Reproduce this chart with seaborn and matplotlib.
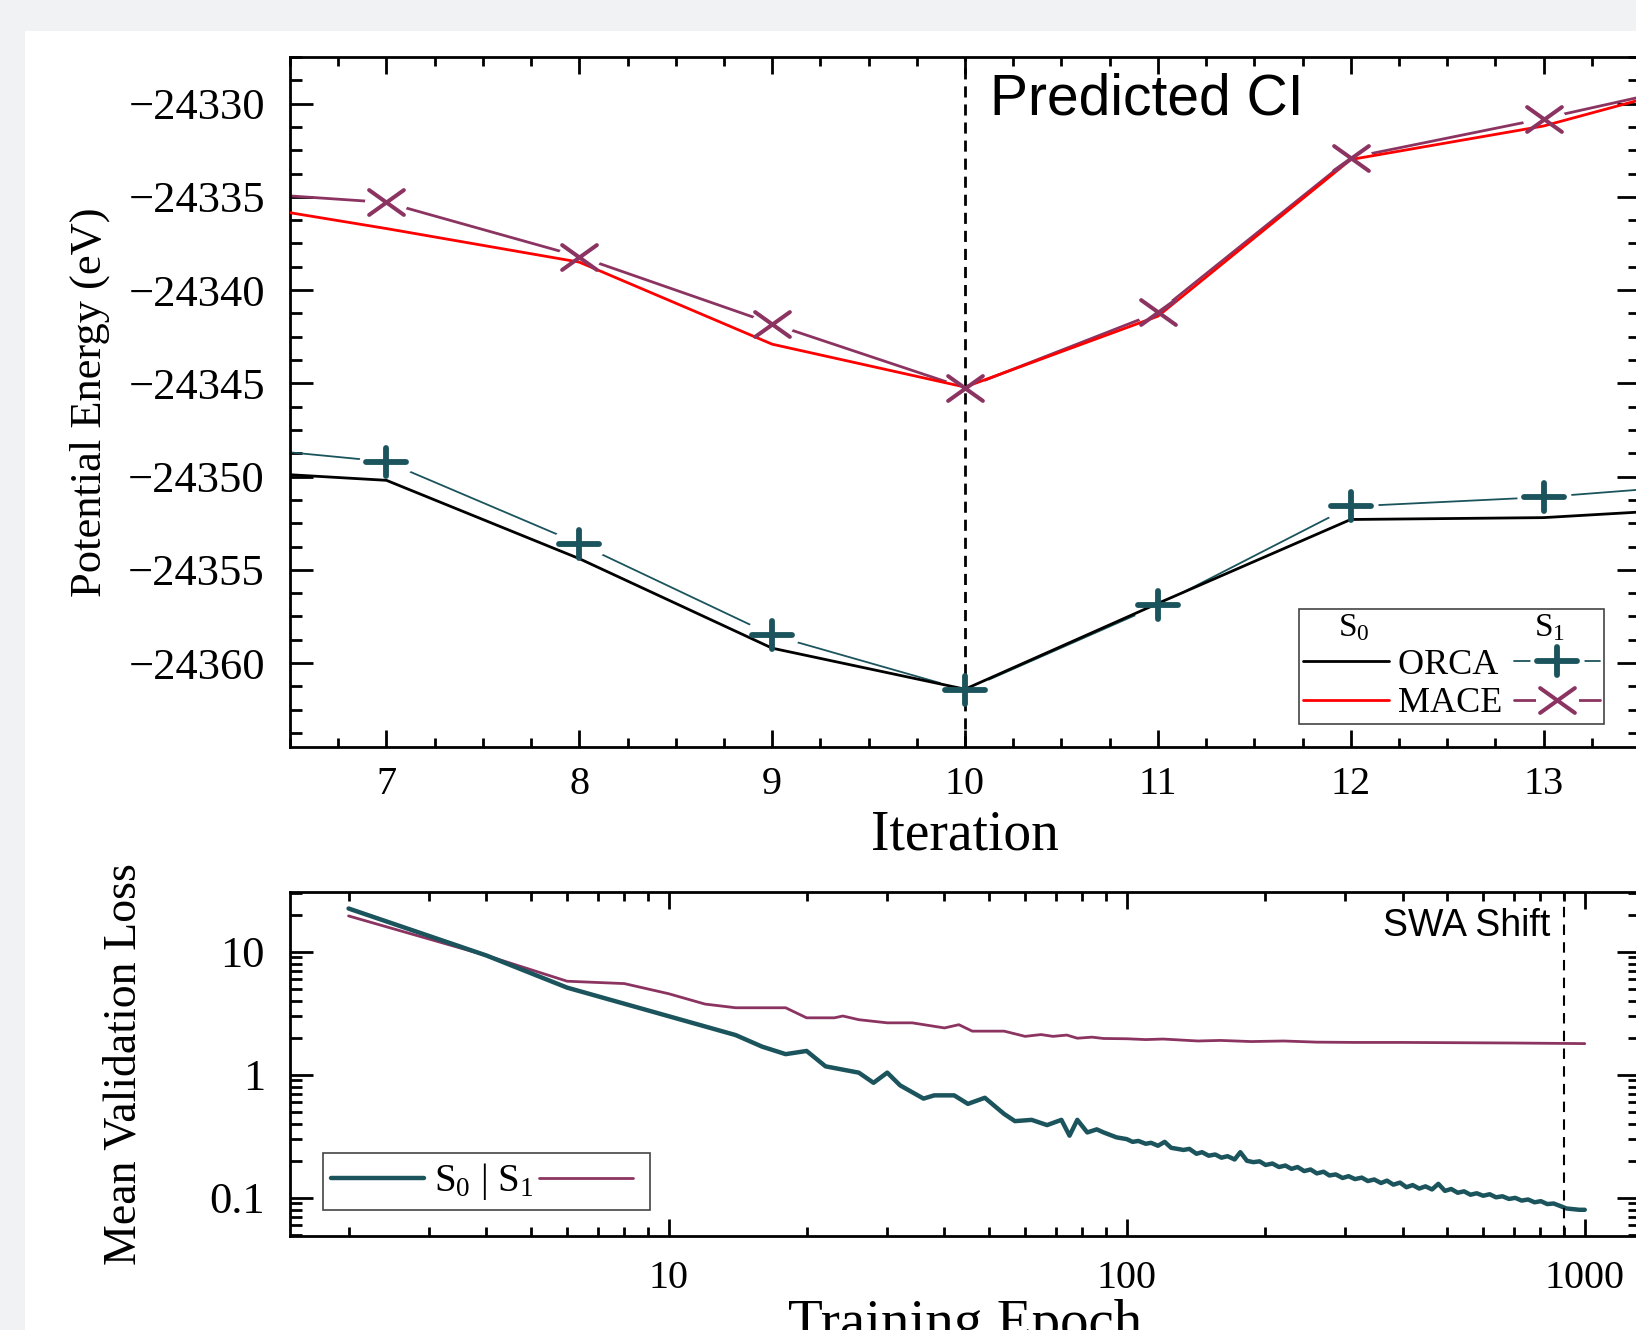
import matplotlib
matplotlib.use('Agg')
import matplotlib.pyplot as plt
import seaborn as sns
import numpy as np
from matplotlib.path import Path
from matplotlib.markers import MarkerStyle
from matplotlib.transforms import Affine2D
from matplotlib.patches import Rectangle
from matplotlib.lines import Line2D
from matplotlib.legend_handler import HandlerTuple
from matplotlib.ticker import AutoMinorLocator, LogLocator, NullFormatter

# ---- top panel: potential energy along the optimisation path (eV)
iteration = [6, 7, 8, 9, 10, 11, 12, 13, 14]
orca_s0 = [-24349.6, -24350.2, -24354.4, -24359.2, -24361.4, -24356.8, -24352.3, -24352.2, -24351.6]
orca_s1 = [-24348.2, -24349.2, -24353.6, -24358.5, -24361.45, -24356.9, -24351.6, -24351.1, -24350.3]
mace_s0 = [-24335.0, -24336.7, -24338.5, -24342.9, -24345.2, -24341.4, -24333.0, -24331.2, -24328.4]
mace_s1 = [-24334.6, -24335.3, -24338.2, -24341.8, -24345.25, -24341.2, -24332.9, -24330.8, -24328.5]
ci_iteration = 10
energy_ticks = [-24360, -24355, -24350, -24345, -24340, -24335, -24330]
iter_ticks = [7, 8, 9, 10, 11, 12, 13]

# ---- bottom panel: validation loss vs epoch
epoch_s0 = [2, 4, 6, 14, 16, 18, 20, 22, 24, 26, 28, 30, 32, 36, 38, 42, 45, 49, 54, 57,
            62, 67, 72, 75, 78, 82, 86, 89, 95,
            100, 103, 106, 110, 113, 117, 121, 125, 129, 133, 137, 142, 146, 151, 156, 161,
            166, 172, 177, 183, 189, 195, 201, 208, 215, 222, 229, 236, 244, 252, 260, 269,
            277, 286, 296, 305, 315, 326, 336, 347, 359, 370, 382, 395, 408, 421, 435, 449,
            464, 479, 495, 511, 528, 545, 563, 581, 600, 620, 640, 661, 683, 705, 728, 752,
            777, 802, 828, 855, 883, 912, 942, 973, 1000]
loss_s0 = [22.4, 9.3, 5.1, 2.1, 1.69, 1.47, 1.56, 1.17, 1.1, 1.04, 0.86, 1.04, 0.82, 0.64,
           0.68, 0.68, 0.58, 0.65, 0.48, 0.42, 0.43, 0.39, 0.43, 0.32, 0.43, 0.34, 0.36,
           0.34, 0.31,
           0.30, 0.285, 0.29, 0.275, 0.28, 0.265, 0.285, 0.255, 0.25, 0.245, 0.25, 0.228,
           0.235, 0.22, 0.225, 0.212, 0.218, 0.205, 0.235, 0.20, 0.195, 0.198, 0.185, 0.19,
           0.178, 0.183, 0.172, 0.178, 0.165, 0.17, 0.158, 0.163, 0.152, 0.155, 0.145, 0.15,
           0.142, 0.146, 0.137, 0.141, 0.132, 0.138, 0.128, 0.133, 0.122, 0.127, 0.119,
           0.124, 0.117, 0.13, 0.114, 0.118, 0.11, 0.113, 0.106, 0.109, 0.104, 0.107, 0.101,
           0.103, 0.098, 0.10, 0.095, 0.097, 0.092, 0.094, 0.089, 0.09, 0.086, 0.082, 0.081,
           0.08, 0.08]
epoch_s1 = [2, 4, 6, 8, 10, 12, 14, 18, 20, 23, 24, 26, 30, 34, 40, 43, 46, 54, 60, 65,
            69, 74, 78, 84, 89, 100, 110, 120, 143, 160, 187, 220, 260, 315, 400, 530,
            700, 1000]
loss_s1 = [19.5, 9.3, 5.75, 5.5, 4.55, 3.75, 3.5, 3.5, 2.9, 2.9, 3.0, 2.8, 2.64, 2.64,
           2.4, 2.55, 2.26, 2.26, 2.05, 2.12, 2.05, 2.1, 1.98, 2.02, 1.97, 1.96, 1.93,
           1.95, 1.88, 1.9, 1.86, 1.88, 1.84, 1.83, 1.83, 1.82, 1.81, 1.79]
swa_epoch = 900
loss_ticks = [0.1, 1, 10]
loss_labels = ['0.1', '1', '10']
epoch_ticks = [10, 100, 1000]
epoch_labels = ['10', '100', '1000']

teal = '#1b545c'
plum = '#8c3461'

sns.set_theme(style='ticks')
plt.rcParams['font.family'] = ['Liberation Serif', 'DejaVu Serif']
plt.rcParams['mathtext.fontset'] = 'custom'
plt.rcParams['mathtext.rm'] = 'Liberation Serif'
plt.rcParams['mathtext.it'] = 'Liberation Serif:italic'
plt.rcParams['mathtext.bf'] = 'Liberation Serif:bold'
for key in ['text.color', 'axes.labelcolor', 'xtick.color', 'ytick.color', 'axes.edgecolor']:
    plt.rcParams[key] = 'black'

# wide plus / cross markers (the original figure is stretched sideways) and a white
# elliptic halo that opens a gap in the S1 lines around each marker
plus_mk = MarkerStyle(Path([(-1.4, 0), (1.4, 0), (0, -1), (0, 1)],
                           [Path.MOVETO, Path.LINETO, Path.MOVETO, Path.LINETO]), capstyle='round')
cross_mk = MarkerStyle(Path([(-1.4, -1), (1.4, 1), (-1.4, 1), (1.4, -1)],
                            [Path.MOVETO, Path.LINETO, Path.MOVETO, Path.LINETO]), capstyle='round')
halo_mk = MarkerStyle(Affine2D().scale(1.4, 1).transform_path(Path.unit_circle()))

W, H = 1636, 1330
fig = plt.figure(figsize=(W / 100, H / 100), dpi=100, facecolor='#f1f2f4')
fig.add_artist(Rectangle((25 / W, 0), 1, 1 - 31 / H, transform=fig.transFigure,
                         facecolor='white', edgecolor='none', zorder=-10))
ax1 = fig.add_axes([290 / W, 1 - 747 / H, 1350 / W, 690 / H])
ax2 = fig.add_axes([290 / W, 1 - 1236 / H, 1350 / W, 344 / H])


def style_axes(ax, xl_pad, yl_pad, xsize, ysize):
    for sp in ax.spines.values():
        sp.set_linewidth(2)
        sp.set_color('black')
    ax.tick_params(which='both', direction='in', top=True, right=True, width=2, color='black')
    ax.tick_params(axis='x', which='major', length=12, pad=xl_pad, labelsize=xsize)
    ax.tick_params(axis='x', which='minor', length=6.5)
    ax.tick_params(axis='y', which='major', length=16.5, pad=yl_pad, labelsize=ysize)
    ax.tick_params(axis='y', which='minor', length=8.5)


plus_kw = dict(ls='none', marker=plus_mk, ms=29, mec=teal, mfc='none', mew=4.2)
cross_kw = dict(ls='none', marker=cross_mk, ms=25, mec=plum, mfc='none', mew=2.9)
plus_halo = dict(ls='none', marker=halo_mk, ms=39, mfc='white', mec='none')
cross_halo = dict(ls='none', marker=halo_mk, ms=31, mfc='white', mec='none')

# ---- top panel
sns.lineplot(x=iteration, y=orca_s1, ax=ax1, color=teal, lw=1.3, zorder=2)
ax1.plot(iteration, orca_s1, zorder=2.5, **plus_halo)
sns.lineplot(x=iteration, y=orca_s0, ax=ax1, color='black', lw=2, zorder=3)
ax1.plot(iteration, orca_s1, zorder=4, **plus_kw)

sns.lineplot(x=iteration, y=mace_s1, ax=ax1, color=plum, lw=2, zorder=2)
ax1.plot(iteration, mace_s1, zorder=2.5, **cross_halo)
sns.lineplot(x=iteration, y=mace_s0, ax=ax1, color='red', lw=2, zorder=3)
ax1.plot(iteration, mace_s1, zorder=4, **cross_kw)

ax1.axvline(ci_iteration, color='black', lw=2, ls=(0, (4, 2.5)), zorder=3)
ax1.text(10.13, -24330.59, 'Predicted CI', family='Liberation Sans', fontsize=41,
         ha='left', va='baseline')

ax1.set_xlim(6.5, 13.5)
ax1.set_ylim(-24364.5, -24327.5)
ax1.set_xticks(iter_ticks)
ax1.set_yticks(energy_ticks)
ax1.xaxis.set_minor_locator(AutoMinorLocator(4))
ax1.yaxis.set_minor_locator(AutoMinorLocator(4))
style_axes(ax1, 14, 18, 29, 32)
ax1.set_xlabel('Iteration', fontsize=40)
ax1.xaxis.set_label_coords(0.5, -0.09)
ax1.set_ylabel('Potential Energy (eV)', fontsize=32)
ax1.yaxis.set_label_coords(-0.1333, 0.5)

h_orca0 = Line2D([], [], color='black', lw=2)
h_mace0 = Line2D([], [], color='red', lw=2)
h_orca1 = (Line2D([], [], color=teal, lw=1.3), Line2D([], [], **plus_halo),
           Line2D([], [], **plus_kw))
h_mace1 = (Line2D([], [], color=plum, lw=2), Line2D([], [], **cross_halo),
           Line2D([], [], **cross_kw))
leg1 = ax1.legend([h_orca0, h_mace0, h_orca1, h_mace1], [' ORCA', ' MACE', '', ''],
                  ncol=2, handler_map={tuple: HandlerTuple(ndivide=1, pad=0)},
                  title=r'$\mathrm{S_0}\qquad\qquad\qquad\;\;\;\mathrm{S_1}$',
                  title_fontsize=24, fontsize=26, loc='lower right',
                  bbox_to_anchor=(0.9733, 0.0333), borderaxespad=0, frameon=True,
                  fancybox=False, framealpha=1, edgecolor='#444444',
                  handlelength=2.4, handletextpad=0.0, columnspacing=0.3,
                  borderpad=0.1, labelspacing=0.15)
leg1.get_frame().set_linewidth(1.2)

# ---- bottom panel
ax2.set_xscale('log')
ax2.set_yscale('log')
sns.lineplot(x=epoch_s1, y=loss_s1, ax=ax2, color=plum, lw=2)
sns.lineplot(x=epoch_s0, y=loss_s0, ax=ax2, color=teal, lw=3.2)
ax2.axvline(swa_epoch, color='black', lw=1.5, ls=(0, (5, 3.5)))
ax2.text(841, 13.36, 'SWA Shift', family='Liberation Sans', fontsize=27,
         ha='right', va='baseline')

ax2.set_xlim(1.49, 1320)
ax2.set_ylim(0.049, 30.5)
ax2.set_xticks(epoch_ticks, epoch_labels)
ax2.set_yticks(loss_ticks, loss_labels)
ax2.xaxis.set_minor_locator(LogLocator(base=10, subs=np.arange(2, 10)))
ax2.yaxis.set_minor_locator(LogLocator(base=10, subs=np.arange(2, 10)))
ax2.xaxis.set_minor_formatter(NullFormatter())
ax2.yaxis.set_minor_formatter(NullFormatter())
style_axes(ax2, 17, 18, 29, 32)
ax2.set_xlabel('Training Epoch', fontsize=41)
ax2.xaxis.set_label_coords(0.5, -0.183)
ax2.set_ylabel('Mean Validation Loss', fontsize=33)
ax2.yaxis.set_label_coords(-0.1067, 0.5)

leg2 = ax2.legend([Line2D([], [], color=teal, lw=3.2), Line2D([], [], color=plum, lw=2)],
                  [r'$\mathrm{S_0}$ | $\mathrm{S_1}$', ''], ncol=2, fontsize=28,
                  loc='lower left', bbox_to_anchor=(0.0244, 0.0756), borderaxespad=0,
                  frameon=True, fancybox=False, framealpha=1, edgecolor='#444444',
                  handlelength=2.4, handletextpad=0.25, columnspacing=0.15, borderpad=0.2)
leg2.get_frame().set_linewidth(1.2)

fig.savefig('out.png', dpi=100, facecolor=fig.get_facecolor())
